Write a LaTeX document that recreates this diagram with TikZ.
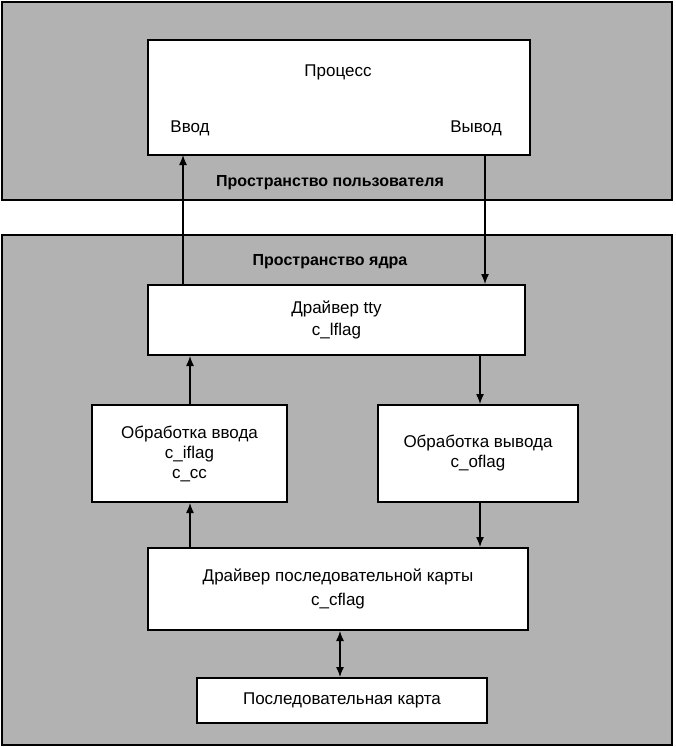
\documentclass[tikz,border=0pt]{standalone}
\usepackage{fontspec}
\setmainfont{Liberation Sans}
\usetikzlibrary{arrows.meta}
\begin{document}
\begin{tikzpicture}[x=1pt,y=-1pt,
  panel/.style={draw=black,line width=2.5pt,fill=black!30},
  bx/.style={draw=black,line width=2pt,fill=white},
  lbl/.style={font=\fontsize{17}{20}\selectfont,align=center},
  arr/.style={line width=1.3pt,-{Latex[length=10pt,width=8pt]}},
  darr/.style={line width=1.3pt,{Latex[length=10pt,width=8pt]}-{Latex[length=10pt,width=8pt]}}]
\useasboundingbox (0,0) rectangle (675,747);
\fill[white] (0,0) rectangle (675,747);
\draw[panel] (2,2) rectangle (672,200);
\draw[panel] (2,235) rectangle (672,745);
\draw[bx] (148,40) rectangle (530,155);
\node[lbl] (proc) at (338,72) {Процесс};
\node[lbl] (vvod) at (190,128) {Ввод};
\node[lbl] (vyvod) at (476,128) {Вывод};
\coordinate (inTop) at (183,155);
\coordinate (outTop) at (485,155);
\node[lbl,font=\bfseries\fontsize{16}{19}\selectfont] (user) at (330,183) {Пространство пользователя};
\node[lbl,font=\bfseries\fontsize{16}{19}\selectfont] (kern) at (330,262) {Пространство ядра};
\node[bx,lbl,minimum width=377pt,minimum height=70pt] (tty) at (336.5,320) {Драйвер tty\\[2pt]c\_lflag};
\node[bx,lbl,minimum width=195pt,minimum height=97pt] (inp) at (189.5,453.5) {Обработка ввода\\c\_iflag\\c\_cc};
\node[bx,lbl,minimum width=200pt,minimum height=97pt] (outp) at (478,453.5) {Обработка вывода\\c\_oflag};
\node[bx,lbl,minimum width=380pt,minimum height=82pt] (ser) at (338,589) {Драйвер последовательной карты\\[4pt]c\_cflag};
\node[bx,lbl,minimum width=290pt,minimum height=45pt] (card) at (342,700.5) {Последовательная карта};
\draw[arr] (tty.north -| inTop) -- (inTop);
\draw[arr] (outTop) -- (tty.north -| outTop);
\draw[arr] (inp.north -| 190,0) -- (tty.south -| 190,0);
\draw[arr] (tty.south -| 480,0) -- (outp.north -| 480,0);
\draw[arr] (ser.north -| 190,0) -- (inp.south -| 190,0);
\draw[arr] (outp.south -| 480,0) -- (ser.north -| 480,0);
\draw[darr] (ser.south -| 340,0) -- (card.north -| 340,0);
\end{tikzpicture}
\end{document}
